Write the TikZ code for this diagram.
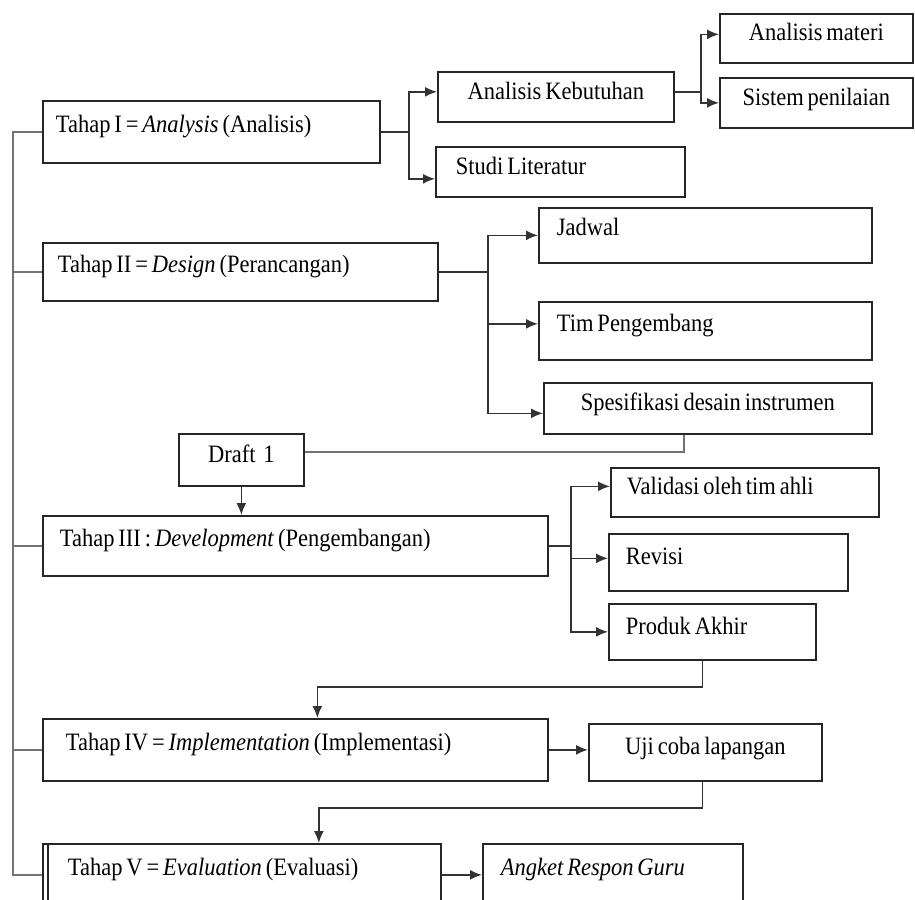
\documentclass[tikz,border=0pt]{standalone}
\usepackage{fontspec}
\setmainfont{Liberation Serif}[FakeStretch=0.9,WordSpace=0.7]
\usetikzlibrary{arrows.meta}
\begin{document}
\begin{tikzpicture}[x=1pt,y=-1pt,font=\fontsize{25}{29}\selectfont,>={Latex[length=12pt,width=10pt]},
    box/.style={draw=black!85,line width=1.7pt,inner ysep=0pt,text height=0.7em,text depth=0.25em,anchor=north west},
    lbox/.style={box,align=flush left},
    high/.style={text depth=0.6em},
    conn/.style={draw=black!80,line width=1.6pt},
    trunk/.style={draw=black!55,line width=1.8pt}]
        \useasboundingbox (0,0) rectangle (915,899);
        \clip (0,0) rectangle (915,899);
        % tahap
        \node[lbox,high,minimum width=337,minimum height=62,inner xsep=13,text width=311] (t1) at (42,100) {Tahap I = \emph{Analysis} (Analisis)};
        \node[lbox,high,minimum width=395,minimum height=58,inner xsep=15,text width=365] (t2) at (42,242) {Tahap II = \emph{Design} (Perancangan)};
        \node[lbox,high,minimum width=505,minimum height=60,inner xsep=17,text width=471] (t3) at (42,515) {Tahap III : \emph{Development} (Pengembangan)};
        \node[lbox,high,minimum width=505,minimum height=62,inner xsep=23,text width=459] (t4) at (42,718) {Tahap IV = \emph{Implementation} (Implementasi)};
        \node[lbox,high,minimum width=398,minimum height=62,inner xsep=25,text width=348] (t5) at (42,843) {Tahap V = \emph{Evaluation} (Evaluasi)};
        % sub
        \node[box,minimum width=236,minimum height=50] (ak) at (437,71) {Analisis Kebutuhan};
        \node[lbox,minimum width=249,minimum height=50,inner xsep=20,text width=209] (sl) at (435,146) {Studi Literatur};
        \node[box,minimum width=193,minimum height=49] (am) at (719,13) {Analisis materi};
        \node[box,minimum width=193,minimum height=50] (sp) at (719,77) {Sistem penilaian};
        \node[lbox,high,minimum width=333,minimum height=55,inner xsep=18,text width=297] (jd) at (538,207) {Jadwal};
        \node[lbox,high,minimum width=333,minimum height=58,inner xsep=18,text width=297] (tp) at (538,301) {Tim Pengembang};
        \node[box,minimum width=328,minimum height=51] (sd) at (543,382) {Spesifikasi desain instrumen};
        \node[box,minimum width=125,minimum height=52] (d1) at (178,433) {Draft\ \ 1};
        \node[lbox,minimum width=268,minimum height=49,inner xsep=16,text width=236] (va) at (610,467) {Validasi oleh tim ahli};
        \node[lbox,minimum width=239,minimum height=57,inner xsep=17,text width=205] (rv) at (608,533) {Revisi};
        \node[lbox,minimum width=207,minimum height=56,inner xsep=17,text width=173] (pa) at (608,603) {Produk Akhir};
        \node[box,minimum width=233,minimum height=57] (uc) at (588,723) {Uji coba lapangan};
        \node[lbox,high,minimum width=260,minimum height=62,inner xsep=18,text width=224] (ag) at (482,843) {\emph{Angket Respon Guru}};
        \draw[draw=black!85,line width=1.7pt] ([xshift=6pt]t5.north west) -- ([xshift=6pt]t5.south west);
        % trunk
        \draw[trunk] (t1.west) -- ++(-29,0) coordinate (tr) |- (t5.west);
        \foreach \n in {t2,t3,t4} \draw[trunk] (\n.west) -- (tr |- \n.west);
        % analysis
        \draw[conn] (t1.east) -- ++(28,0) coordinate (b1);
        \draw[conn,->] (b1) |- ([yshift=5pt]ak.west);
        \draw[conn,->] (b1) |- ([yshift=-7pt]sl.west);
        \draw[conn] ([yshift=5pt]ak.east) -- ++(26,0) coordinate (b2);
        \draw[conn,->] (b2) |- ([yshift=4pt]am.west);
        \draw[conn,->] (b2) |- (sp.west);
        % design
        \draw[conn] (t2.east) -- ++(49,0) coordinate (b3);
        \foreach \n/\s in {jd/0,tp/7,sd/-5} \draw[conn,->] (b3) |- ([yshift=\s pt]\n.west);
        \draw[trunk,line width=1.6pt] ([xshift=-24pt]sd.south) |- ([yshift=8pt]d1.east);
        \draw[conn,->] (d1.south) -- (d1.south |- t3.north);
        % development
        \draw[conn] (t3.east) -- ++(22,0) coordinate (b4);
        \foreach \n/\s in {va/6,rv/4,pa/0} \draw[conn,->] (b4) |- ([yshift=\s pt]\n.west);
        \draw[conn,->] ([xshift=-10pt]pa.south) -- ++(0,26) -| ([xshift=22pt]t4.north);
        % implementation, evaluation
        \draw[conn,->] (t4.east) -- (t4.east -| uc.west);
        \draw[conn,->] ([xshift=-3pt]uc.south) -- ++(0,26) -| ([xshift=77pt]t5.north);
        \draw[conn,->] (t5.east) -- (t5.east -| ag.west);
\end{tikzpicture}
\end{document}
